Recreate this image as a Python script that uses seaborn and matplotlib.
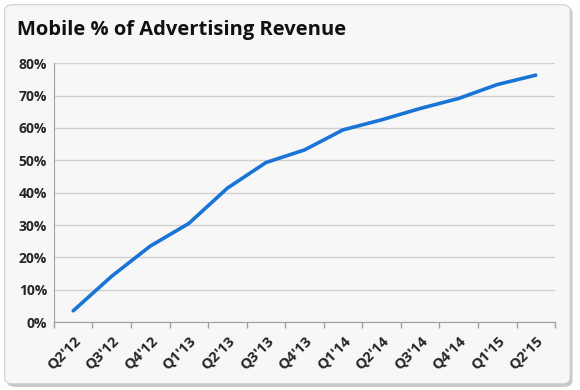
import matplotlib
matplotlib.use("Agg")
import seaborn as sns
import matplotlib.pyplot as plt
import pandas as pd
import numpy as np
from matplotlib.patches import FancyBboxPatch
from matplotlib.ticker import FuncFormatter, FixedLocator

# Dados
quarters = ["Q2'12", "Q3'12", "Q4'12", "Q1'13", "Q2'13", "Q3'13", "Q4'13",
            "Q1'14", "Q2'14", "Q3'14", "Q4'14", "Q1'15", "Q2'15"]
mobile_pct = [3.5, 14.2, 23.5, 30.5, 41.4, 49.3, 53.2, 59.4, 62.5, 66.0, 69.1, 73.4, 76.3]

df = pd.DataFrame({"quarter": quarters, "pct": mobile_pct})

sns.set_style("white")
plt.rcParams['font.family'] = ['Open Sans', 'DejaVu Sans']

fig = plt.figure(figsize=(5.8, 3.9), dpi=100)
fig.patch.set_facecolor("white")

# caixa arredondada com sombra
shadow = FancyBboxPatch((0.012, 0.008), 0.975, 0.975, boxstyle="round,pad=0,rounding_size=0.015",
                        transform=fig.transFigure, facecolor="#c8c8c8", edgecolor="none", zorder=-3)
box = FancyBboxPatch((0.008, 0.016), 0.975, 0.972, boxstyle="round,pad=0,rounding_size=0.015",
                     transform=fig.transFigure, facecolor="#f7f7f7", edgecolor="#d0d0d0",
                     linewidth=0.8, zorder=-2)
fig.patches.extend([shadow, box])

ax = fig.add_axes([0.093, 0.174, 0.864, 0.664])
ax.set_facecolor("none")

sns.lineplot(data=df, x="quarter", y="pct", ax=ax, color="#1a74d6", linewidth=2.6, sort=False)

ax.set_xlim(-0.5, len(quarters) - 0.5)
ax.set_ylim(0, 80)
ax.set_yticks(np.arange(0, 81, 10))
ax.yaxis.set_major_formatter(FuncFormatter(lambda v, p: f"{int(v)}%"))
ax.grid(axis="y", color="#cfcfcf", linewidth=1)
ax.set_axisbelow(True)

ax.set_xticks(range(len(quarters)))
ax.set_xticklabels(quarters, rotation=45, ha="right", rotation_mode="anchor")
ax.xaxis.set_minor_locator(FixedLocator(np.arange(-0.5, len(quarters), 1)))
ax.tick_params(axis="x", which="major", length=0, pad=8, labelsize=10.5)
ax.tick_params(axis="x", which="minor", length=4, color="#a0a0a0", width=1, direction="out")
ax.tick_params(axis="x", which="both", bottom=True)
ax.tick_params(axis="y", length=0, labelsize=10, pad=5)
for lbl in ax.get_xticklabels() + ax.get_yticklabels():
    lbl.set_fontweight("bold")

for s in ["top", "right"]:
    ax.spines[s].set_visible(False)
ax.spines["left"].set_color("#a0a0a0")
ax.spines["bottom"].set_color("#a0a0a0")
ax.set_xlabel("")
ax.set_ylabel("")

fig.text(0.03, 0.922, "Mobile % of Advertising Revenue", fontsize=14.5, fontweight="bold",
         color="#111111", ha="left", va="center")

fig.savefig("out.png", dpi=100)
